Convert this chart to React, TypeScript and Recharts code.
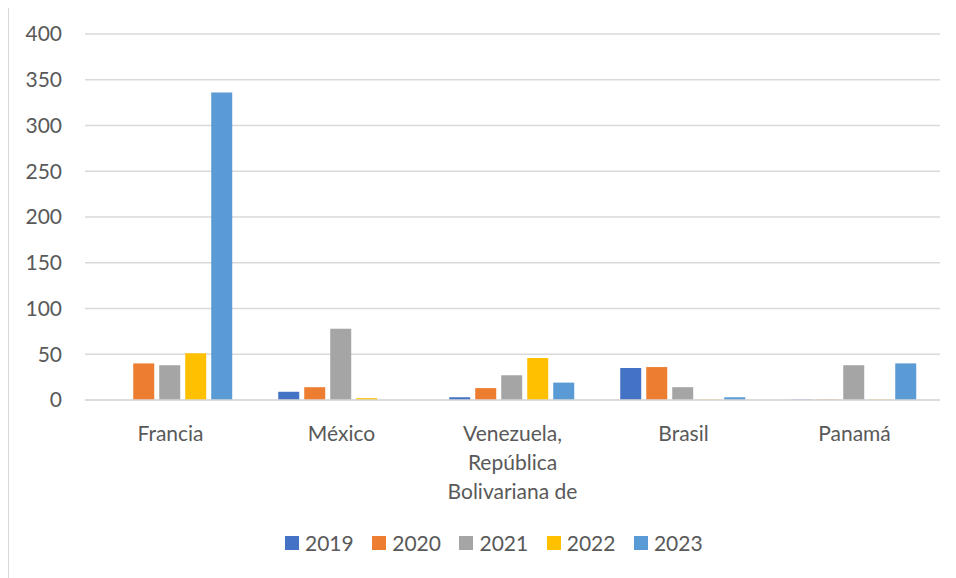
import { Bar, BarChart, CartesianGrid, Legend, XAxis, YAxis } from "recharts";

const categories = ["Francia", "México", "Venezuela, República Bolivariana de", "Brasil", "Panamá"];
const categoryLines = [["Francia"], ["México"], ["Venezuela,", "República", "Bolivariana de"], ["Brasil"], ["Panamá"]];
const years = ["2019", "2020", "2021", "2022", "2023"];
const v2019 = [0, 9, 3, 35, 0.5];
const v2020 = [40, 14, 13, 36, 0.5];
const v2021 = [38, 78, 27, 14, 38];
const v2022 = [51, 2, 46, 0.5, 0.5];
const v2023 = [336, 0, 19, 3, 40];
const yTicks = [0, 50, 100, 150, 200, 250, 300, 350, 400];

const COLORS = ["#4472C4", "#ED7D31", "#A5A5A5", "#FFC000", "#5B9BD5"];
const TEXT = "#595959";
const FONT = "Lato, 'Open Sans', sans-serif";

const series = [v2019, v2020, v2021, v2022, v2023];
const data = categories.map((name, i) => {
  const row: Record<string, string | number> = { name };
  years.forEach((y, k) => {
    row[y] = series[k][i];
  });
  return row;
});

function CategoryTick({ x, y, payload }: any) {
  const idx = categories.indexOf(payload.value);
  const lines = categoryLines[idx] || [payload.value];
  return (
    <g transform={`translate(${x},${y})`}>
      {lines.map((line, i) => (
        <text key={line} x={0} y={i * 29} dy={33} textAnchor="middle" fill={TEXT} fontSize={21} fontFamily={FONT}>
          {line}
        </text>
      ))}
    </g>
  );
}

function LegendContent() {
  return (
    <div style={{ display: "flex", alignItems: "center", fontFamily: FONT, fontSize: 21, color: TEXT, lineHeight: "24px" }}>
      {years.map((y, i) => (
        <span key={y} style={{ display: "inline-flex", alignItems: "center", marginRight: 18.5 }}>
          <span style={{ width: 14, height: 14, background: COLORS[i], marginRight: 6, display: "inline-block" }} />
          {y}
        </span>
      ))}
    </div>
  );
}

export default function App() {
  return (
    <div
      style={{
        marginTop: -3,
        width: 947,
        height: 572,
        borderLeft: "1px solid #d9d9d9",
        borderTop: "1px solid #d9d9d9",
        background: "#fff",
        overflow: "hidden",
      }}
    >
      <BarChart
        width={947}
        height={572}
        data={data}
        margin={{ top: 28, right: 16, left: 0, bottom: 54 }}
        barCategoryGap="13%"
        barGap={5}
      >
        <CartesianGrid vertical={false} stroke="#d9d9d9" strokeWidth={1.5} />
        <XAxis
          dataKey="name"
          height={100}
          interval={0}
          axisLine={{ stroke: "#d9d9d9", strokeWidth: 1.5 }}
          tickLine={false}
          tick={<CategoryTick />}
        />
        <YAxis
          width={76}
          domain={[0, 400]}
          ticks={yTicks}
          axisLine={false}
          tickLine={false}
          tickSize={0}
          tickMargin={23}
          tick={{ fill: TEXT, fontSize: 21, fontFamily: FONT }}
        />
        <Legend content={<LegendContent />} wrapperStyle={{ left: 276, top: 525, width: "auto" }} />
        {years.map((y, i) => (
          <Bar key={y} dataKey={y} fill={COLORS[i]} isAnimationActive={false} />
        ))}
      </BarChart>
    </div>
  );
}
